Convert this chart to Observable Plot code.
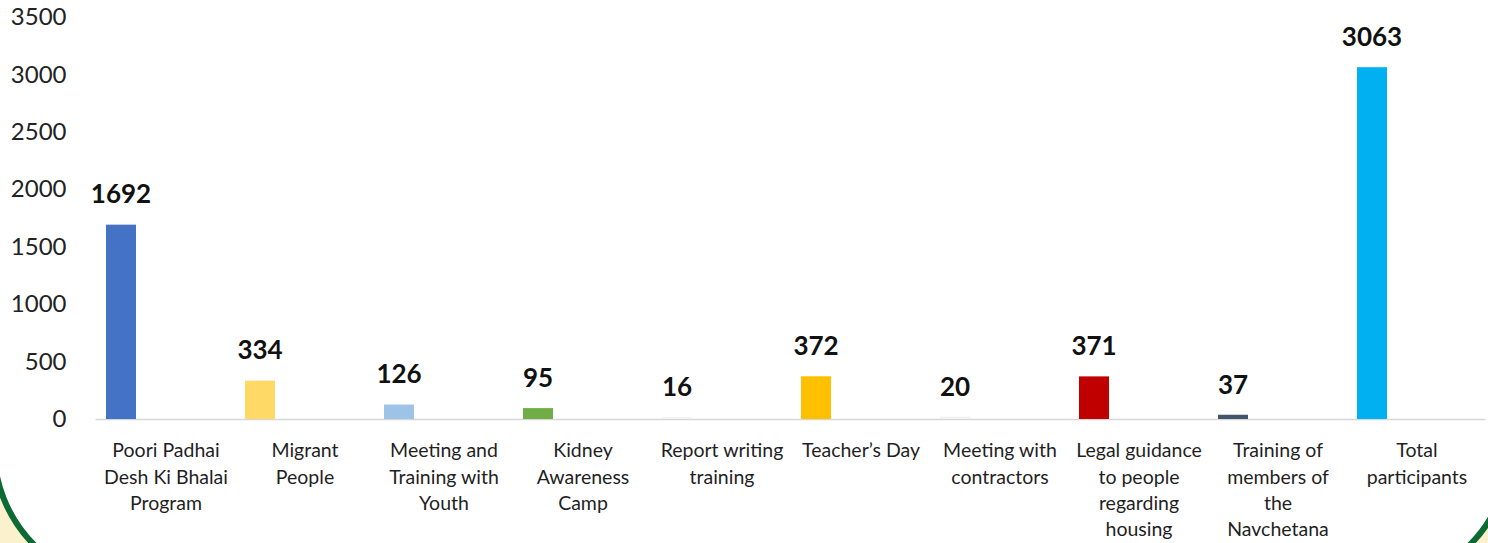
<!DOCTYPE html>
<html>
<head>
<meta charset="utf-8">
<script src="https://cdn.jsdelivr.net/npm/d3@7"></script>
<script src="https://cdn.jsdelivr.net/npm/@observablehq/plot@0.6"></script>
<style>
  html, body { margin: 0; padding: 0; }
  #wrap { position: relative; width: 1488px; height: 543px; overflow: hidden; background: #fbf1cc; }
  #box { position: absolute; left: -9px; top: -120px; width: 1522px; height: 708px; box-sizing: border-box;
         background: #ffffff; border: 6px solid #0d6a34; border-radius: 140px; }
  #chart { position: absolute; left: 0; top: 0; }
</style>
</head>
<body>
<div id="wrap"><div id="box"></div><div id="chart"></div></div>
<script>
const categories = [
  "Poori Padhai Desh Ki Bhalai Program",
  "Migrant People",
  "Meeting and Training with Youth",
  "Kidney Awareness Camp",
  "Report writing training",
  "Teacher’s Day",
  "Meeting with contractors",
  "Legal guidance to people regarding housing",
  "Training of members of the Navchetana",
  "Total participants"
];
const tickLabels = [
  "Poori Padhai\nDesh Ki Bhalai\nProgram",
  "Migrant\nPeople",
  "Meeting and\nTraining with\nYouth",
  "Kidney\nAwareness\nCamp",
  "Report writing\ntraining",
  "Teacher’s Day",
  "Meeting with\ncontractors",
  "Legal guidance\nto people\nregarding\nhousing",
  "Training of\nmembers of\nthe\nNavchetana",
  "Total\nparticipants"
];
const values = [1692, 334, 126, 95, 16, 372, 20, 371, 37, 3063];
const colors = ["#4472C4", "#FFD966", "#9DC3E6", "#70AD47", "#F2F2F2", "#FFC000", "#F2F2F2", "#C00000", "#44546A", "#00B0F0"];
const yTicks = [0, 500, 1000, 1500, 2000, 2500, 3000, 3500];

const data = categories.map((c, i) => ({category: c, value: values[i], color: colors[i]}));

const chart = Plot.plot({
  width: 1488,
  height: 543,
  marginLeft: 95.5,
  marginRight: 2.5,
  marginTop: 17,
  marginBottom: 124,
  style: {background: "transparent", fontFamily: "Lato, sans-serif", overflow: "visible"},
  x: {domain: categories, padding: 0, axis: null},
  y: {domain: [0, 3500], axis: null},
  marks: [
    Plot.ruleY([0], {stroke: "#d6d6d6", strokeWidth: 1.5}),
    Plot.barY(data, {x: "category", y: "value", fill: "color", insetLeft: 10, insetRight: 99}),
    Plot.text(data, {x: "category", y: "value", text: d => String(d.value), dx: -45, dy: -30,
      fontSize: 26, fontWeight: "bold", fill: "#111"}),
    Plot.axisY({ticks: yTicks, tickSize: 0, tickPadding: 29.5, fontSize: 24, fill: "#222", label: null,
      tickFormat: d => String(d)}),
    Plot.axisX({tickSize: 0, tickPadding: 19, fontSize: 19.5, lineHeight: 1.35, fill: "#1f1f1f", label: null,
      tickFormat: d => tickLabels[categories.indexOf(d)]})
  ]
});
document.getElementById("chart").appendChild(chart);
</script>
</body>
</html>
